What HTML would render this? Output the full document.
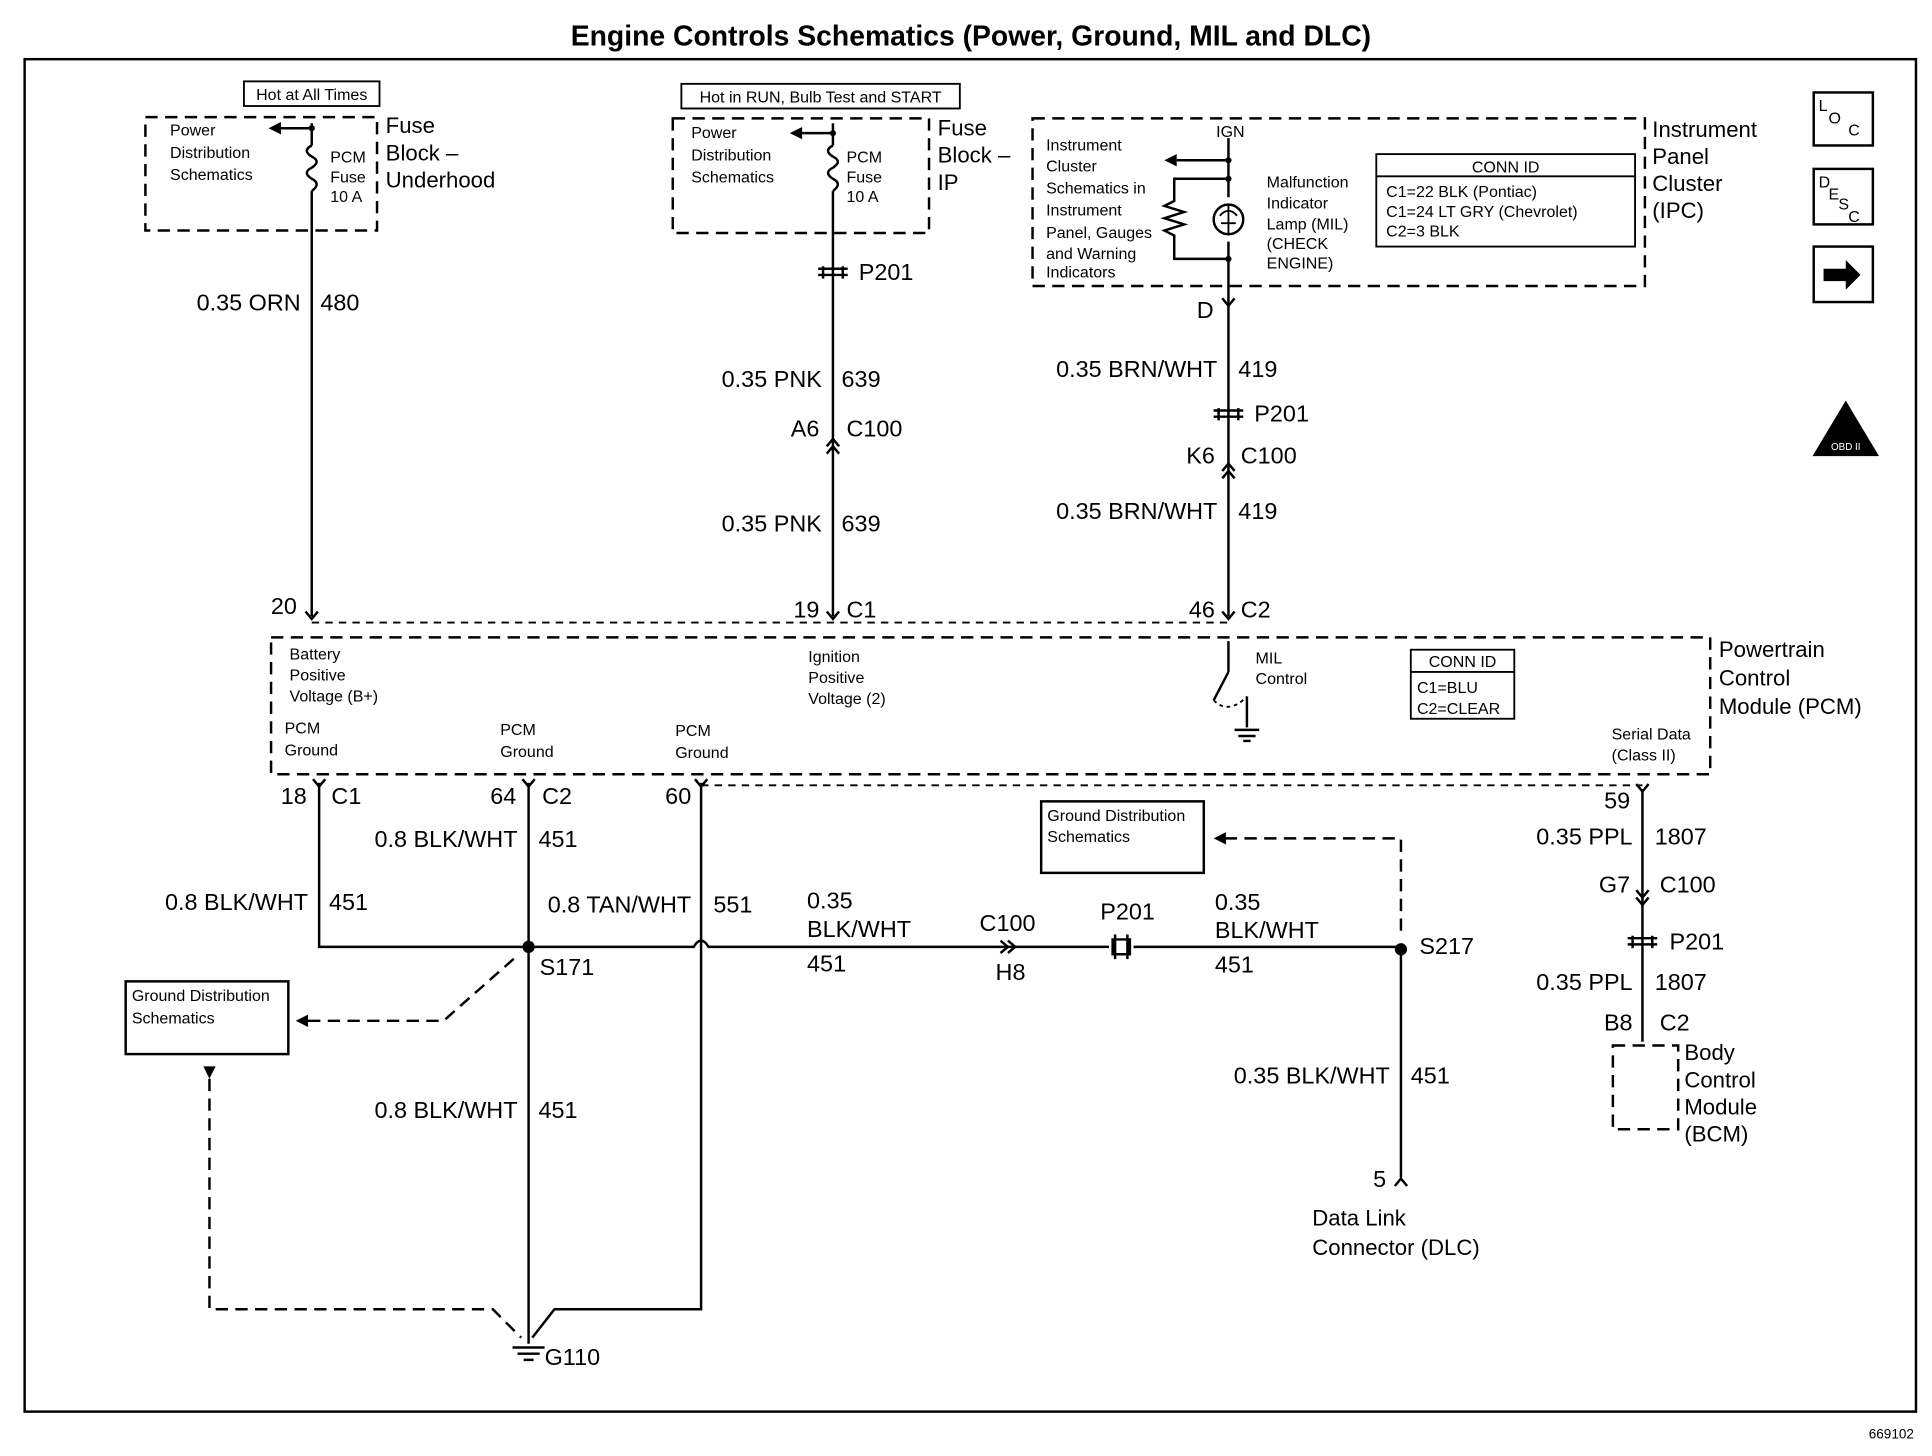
<!DOCTYPE html>
<html><head><meta charset="utf-8"><style>
html,body{margin:0;padding:0;background:#fff;}
svg{display:block;}
text{font-family:"Liberation Sans",Arial,sans-serif;fill:#000;}
.l{font-size:19px;}
.s{font-size:13px;}
.b{font-size:18px;}
</style></head><body>
<svg width="1932" height="1456" viewBox="0 0 1568 1181" preserveAspectRatio="none" xmlns="http://www.w3.org/2000/svg">
<rect width="1568" height="1181" fill="#fff"/>
<g fill="none" stroke="#000" stroke-width="2">
<rect x="20" y="48" width="1535" height="1097"/>
<rect x="118" y="95" width="188" height="92" stroke-dasharray="10,6"/>
<rect x="198" y="66" width="110" height="20" stroke-width="1.5"/>
<path d="M253 100 V118 M253 155 V500"/>
<path d="M253 118 q-8 4 0 9 q8 4 0 9 q-8 4 0 9 q8 4 0 10"/>
<path d="M253 104 H228"/>
<rect x="546" y="96" width="208" height="93" stroke-dasharray="10,6"/>
<rect x="553" y="68" width="226" height="20" stroke-width="1.5"/>
<path d="M676 100 V118 M676 155 V500"/>
<path d="M676 118 q-8 4 0 9 q8 4 0 9 q-8 4 0 9 q8 4 0 10"/>
<path d="M676 108 H651"/>
<rect x="838" y="96" width="497" height="136" stroke-dasharray="10,6"/>
<rect x="1117" y="125" width="210" height="75" stroke-width="1.5"/>
<path d="M1117 143 H1327" stroke-width="1.5"/>
<path d="M997 112 V160 M997 196 V500"/>
<path d="M997 130 H955"/>
<path d="M997 145 H953 V163 l-8 4 l16 5 l-16 5 l16 5 l-16 5 l8 4 V210 H997"/>
<circle cx="997" cy="178" r="12"/>
<path d="M990 175 q7 -8 14 0 M991 181 H1003 M997 166 V190" stroke-width="1.5"/>
<path d="M253 505 H997" stroke-dasharray="6,5" stroke-width="1.5"/>
<rect x="220" y="517" width="1168" height="111" stroke-dasharray="10,6"/>
<rect x="1145" y="527" width="84" height="56" stroke-width="1.5"/>
<path d="M1145 545 H1229" stroke-width="1.5"/>
<path d="M997 520 V545 M997 545 L985 568 M1012 565 V590"/>
<path d="M985 568 q12 12 27 -3" stroke-dasharray="3,3" stroke-width="1.5"/>
<path d="M1002 592 H1022 M1005 597 H1019 M1009 601 H1015"/>
<path d="M569 637 H1333" stroke-dasharray="6,5" stroke-width="1.5"/>
<path d="M259 635 V768 H429 M429 635 V1090 M569 635 V1062 H450 L432 1085"/>
<path d="M429 768 H563 q6 -10 12 0 H900 M920 768 H1137 V955"/>
<path d="M1333 640 V845"/>
<rect x="845" y="650" width="132" height="58"/>
<path d="M1137 755 V680 H995" stroke-dasharray="10,6"/>
<rect x="102" y="796" width="132" height="59"/>
<path d="M250 828 H360 L420 775" stroke-dasharray="10,6"/>
<path d="M170 875 V1062 H400 L423 1085" stroke-dasharray="10,6"/>
<rect x="1309" y="848" width="53" height="68" stroke-dasharray="10,6"/>
<rect x="1472" y="75" width="48" height="43"/>
<rect x="1472" y="137" width="48" height="45"/>
<rect x="1472" y="200" width="48" height="45"/>
</g>
<g fill="#000">
<path d="M218 104 l10 -5 v10z"/>
<path d="M641 108 l10 -5 v10z"/>
<path d="M945 130 l10 -5 v10z"/>
<path d="M985 680 l10 -5 v10z"/>
<path d="M240 828 l10 -5 v10z"/>
<path d="M165 865 h10 l-5 10z"/>
<circle cx="429" cy="768" r="5"/>
<circle cx="1137" cy="770" r="5"/>
<circle cx="253" cy="104" r="2.5"/><circle cx="676" cy="108" r="2.5"/><circle cx="997" cy="130" r="2.5"/><circle cx="997" cy="145" r="2.5"/><circle cx="997" cy="210" r="2.5"/>
<path d="M1480 218 h18 v-7 l12 12 l-12 12 v-7 h-18z"/>
<path d="M1498 325 l27 45 h-54z"/>
<path d="M416 1093 H442 M420 1098 H438 M425 1103 H433" stroke="#000" stroke-width="2"/>
</g>
<g fill="none" stroke="#000" stroke-width="2">
<path d="M664 218 H688 M664 223 H688 M668 216 v10 M684 216 v10"/>
<path d="M985 333 H1009 M985 338 H1009 M989 331 v10 M1005 331 v10"/>
<path d="M1321 761 H1345 M1321 766 H1345 M1325 759 v10 M1341 759 v10"/>
<path d="M671 362 l5 -6 l5 6 M671 368 l5 -6 l5 6"/>
<path d="M992 382 l5 -6 l5 6 M992 388 l5 -6 l5 6"/>
<path d="M1328 722 l5 6 l5 -6 M1328 728 l5 6 l5 -6"/>
<path d="M812 763 l6 5 l-6 5 M818 763 l6 5 l-6 5"/>
<path d="M905 758 v20 M915 758 v20 M903 762 h14 v12 h-14z"/>
<path d="M992 242 l5 6 l5 -6"/><path d="M248 496 l5 6 l5 -6"/><path d="M671 496 l5 6 l5 -6"/><path d="M992 496 l5 6 l5 -6"/>
<path d="M254 632 l5 6 l5 -6"/><path d="M424 632 l5 6 l5 -6"/><path d="M564 632 l5 6 l5 -6"/><path d="M1328 636 l5 6 l5 -6"/>
<path d="M1132 962 l5 -6 l5 6"/>
</g>
<text x="788" y="37" text-anchor="middle" style="font-size:23px;font-weight:bold">Engine Controls Schematics (Power, Ground, MIL and DLC)</text>
<text x="253" y="81" text-anchor="middle" class="s">Hot at All Times</text>
<text x="666" y="83" text-anchor="middle" class="s">Hot in RUN, Bulb Test and START</text>
<g class="s">
<text x="138" y="110">Power</text><text x="138" y="128">Distribution</text><text x="138" y="146">Schematics</text>
<text x="268" y="132">PCM</text><text x="268" y="148">Fuse</text><text x="268" y="164">10 A</text>
<text x="561" y="112">Power</text><text x="561" y="130">Distribution</text><text x="561" y="148">Schematics</text>
<text x="687" y="132">PCM</text><text x="687" y="148">Fuse</text><text x="687" y="164">10 A</text>
<text x="849" y="122">Instrument</text><text x="849" y="139">Cluster</text><text x="849" y="157">Schematics in</text><text x="849" y="175">Instrument</text><text x="849" y="193">Panel, Gauges</text><text x="849" y="210">and  Warning</text><text x="849" y="225">Indicators</text>
<text x="1028" y="152">Malfunction</text><text x="1028" y="169">Indicator</text><text x="1028" y="186">Lamp (MIL)</text><text x="1028" y="202">(CHECK</text><text x="1028" y="218">ENGINE)</text>
<text x="987" y="111">IGN</text>
<text x="1222" y="140" text-anchor="middle">CONN ID</text>
<text x="1125" y="160">C1=22 BLK (Pontiac)</text><text x="1125" y="176">C1=24 LT GRY (Chevrolet)</text><text x="1125" y="192">C2=3 BLK</text>
<text x="235" y="535">Battery</text><text x="235" y="552">Positive</text><text x="235" y="569">Voltage (B+)</text>
<text x="231" y="595">PCM</text><text x="231" y="613">Ground</text>
<text x="406" y="596">PCM</text><text x="406" y="614">Ground</text>
<text x="548" y="597">PCM</text><text x="548" y="615">Ground</text>
<text x="656" y="537">Ignition</text><text x="656" y="554">Positive</text><text x="656" y="571">Voltage (2)</text>
<text x="1019" y="538">MIL</text><text x="1019" y="555">Control</text>
<text x="1187" y="541" text-anchor="middle">CONN ID</text><text x="1150" y="562">C1=BLU</text><text x="1150" y="579">C2=CLEAR</text>
<text x="1308" y="600">Serial Data</text><text x="1308" y="617">(Class II)</text>
<text x="850" y="666">Ground Distribution</text><text x="850" y="683">Schematics</text>
<text x="107" y="812">Ground Distribution</text><text x="107" y="830">Schematics</text>
<text x="1476" y="90">L</text><text x="1484" y="100">O</text><text x="1500" y="110">C</text>
<text x="1476" y="152">D</text><text x="1484" y="162">E</text><text x="1492" y="170">S</text><text x="1500" y="180">C</text>
<text x="1535" y="1167" style="font-size:11px" text-anchor="middle">669102</text>
<text x="1498" y="365" style="font-size:8px;fill:#fff" text-anchor="middle">OBD II</text>
</g>
<g class="b">
<text x="313" y="108">Fuse</text><text x="313" y="130">Block –</text><text x="313" y="152">Underhood</text>
<text x="761" y="110">Fuse</text><text x="761" y="132">Block –</text><text x="761" y="154">IP</text>
<text x="1341" y="111">Instrument</text><text x="1341" y="133">Panel</text><text x="1341" y="155">Cluster</text><text x="1341" y="177">(IPC)</text>
<text x="1395" y="533">Powertrain</text><text x="1395" y="556">Control</text><text x="1395" y="579">Module (PCM)</text>
<text x="1367" y="860">Body</text><text x="1367" y="882">Control</text><text x="1367" y="904">Module</text><text x="1367" y="926">(BCM)</text>
<text x="1065" y="994">Data Link</text><text x="1065" y="1018">Connector (DLC)</text>
</g>
<g class="l">
<text x="244" y="252" text-anchor="end">0.35 ORN</text><text x="260" y="252">480</text>
<text x="241" y="498" text-anchor="end">20</text>
<text x="697" y="227">P201</text>
<text x="667" y="314" text-anchor="end">0.35 PNK</text><text x="683" y="314">639</text>
<text x="665" y="354" text-anchor="end">A6</text><text x="687" y="354">C100</text>
<text x="667" y="431" text-anchor="end">0.35 PNK</text><text x="683" y="431">639</text>
<text x="665" y="501" text-anchor="end">19</text><text x="687" y="501">C1</text>
<text x="985" y="258" text-anchor="end">D</text>
<text x="988" y="306" text-anchor="end">0.35 BRN/WHT</text><text x="1005" y="306">419</text>
<text x="1018" y="342">P201</text>
<text x="986" y="376" text-anchor="end">K6</text><text x="1007" y="376">C100</text>
<text x="988" y="421" text-anchor="end">0.35 BRN/WHT</text><text x="1005" y="421">419</text>
<text x="986" y="501" text-anchor="end">46</text><text x="1007" y="501">C2</text>
<text x="249" y="652" text-anchor="end">18</text><text x="269" y="652">C1</text>
<text x="419" y="652" text-anchor="end">64</text><text x="440" y="652">C2</text>
<text x="561" y="652" text-anchor="end">60</text>
<text x="1323" y="656" text-anchor="end">59</text>
<text x="420" y="687" text-anchor="end">0.8 BLK/WHT</text><text x="437" y="687">451</text>
<text x="250" y="738" text-anchor="end">0.8 BLK/WHT</text><text x="267" y="738">451</text>
<text x="561" y="740" text-anchor="end">0.8 TAN/WHT</text><text x="579" y="740">551</text>
<text x="655" y="737">0.35</text><text x="655" y="760">BLK/WHT</text><text x="655" y="788">451</text>
<text x="795" y="755">C100</text><text x="808" y="795">H8</text>
<text x="893" y="746">P201</text>
<text x="986" y="738">0.35</text><text x="986" y="761">BLK/WHT</text><text x="986" y="789">451</text>
<text x="438" y="791">S171</text><text x="1152" y="774">S217</text>
<text x="420" y="907" text-anchor="end">0.8 BLK/WHT</text><text x="437" y="907">451</text>
<text x="1128" y="879" text-anchor="end">0.35 BLK/WHT</text><text x="1145" y="879">451</text>
<text x="1125" y="963" text-anchor="end">5</text>
<text x="442" y="1107">G110</text>
<text x="1325" y="685" text-anchor="end">0.35 PPL</text><text x="1343" y="685">1807</text>
<text x="1323" y="724" text-anchor="end">G7</text><text x="1347" y="724">C100</text>
<text x="1355" y="770">P201</text>
<text x="1325" y="803" text-anchor="end">0.35 PPL</text><text x="1343" y="803">1807</text>
<text x="1325" y="836" text-anchor="end">B8</text><text x="1347" y="836">C2</text>
</g>
</svg>
</body></html>
